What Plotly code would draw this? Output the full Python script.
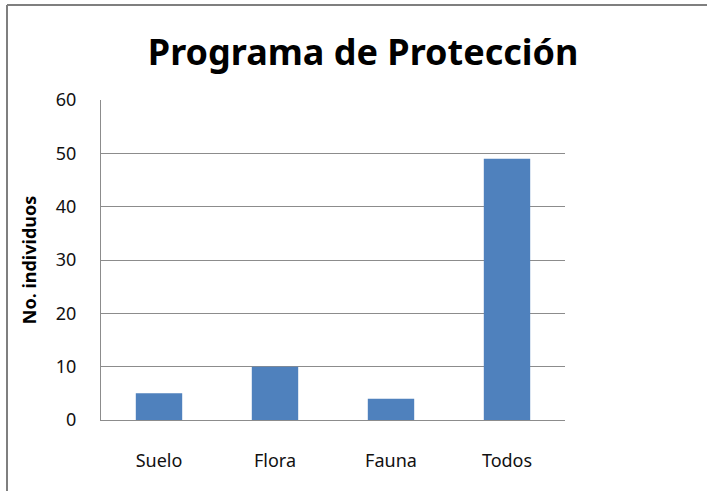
import plotly.graph_objects as go

# --- data ---
categories = ["Suelo", "Flora", "Fauna", "Todos"]
individuos = [5, 10, 4, 49]

# --- layout geometry (px) ---
W, H = 707, 491
L, R, T, B = 101, 142, 100, 71
pw, ph = W - L - R, H - T - B


def px_x(x):
    return (x - L) / pw


def px_y(y):
    return (H - B - y) / ph


fig = go.Figure(
    go.Bar(
        x=categories,
        y=individuos,
        marker=dict(color="#4F81BD", line=dict(width=0)),
        width=0.4,
    )
)

grid = "#8c8c8c"
fig.update_layout(
    width=W,
    height=H,
    margin=dict(l=L, r=R, t=T, b=B, pad=0),
    paper_bgcolor="white",
    plot_bgcolor="white",
    showlegend=False,
    font=dict(family="Noto Sans", size=18, color="#111111"),
    title=dict(
        text="<b>Programa de Protección</b>",
        font=dict(family="Noto Sans", size=36, color="black"),
        x=0.565, xref="paper", xanchor="center",
        y=1 - 52 / H, yref="container", yanchor="middle",
    ),
    xaxis=dict(
        showgrid=False,
        showline=True, linecolor=grid, linewidth=1,
        ticks="", ticklabelstandoff=24,
        tickfont=dict(size=18),
    ),
    yaxis=dict(
        range=[0, 60], dtick=10,
        showgrid=True, gridcolor=grid, gridwidth=1,
        zeroline=False,
        showline=True, linecolor=grid, linewidth=1,
        ticks="", ticklabelstandoff=20,
        tickfont=dict(size=18),
        title=dict(text="<b>No. individuos</b>", font=dict(size=18, color="black"), standoff=14),
    ),
    shapes=[
        # chart frame: top and left edges
        dict(type="line", xref="paper", yref="paper",
             x0=px_x(7), x1=px_x(W), y0=px_y(5), y1=px_y(5),
             line=dict(color="#7f7f7f", width=2)),
        dict(type="line", xref="paper", yref="paper",
             x0=px_x(7), x1=px_x(7), y0=px_y(5), y1=px_y(H),
             line=dict(color="#7f7f7f", width=2)),
    ],
)

fig.write_html(
    "out.html",
    config={"displayModeBar": False},
    post_script="document.body.style.margin='0';",
)
